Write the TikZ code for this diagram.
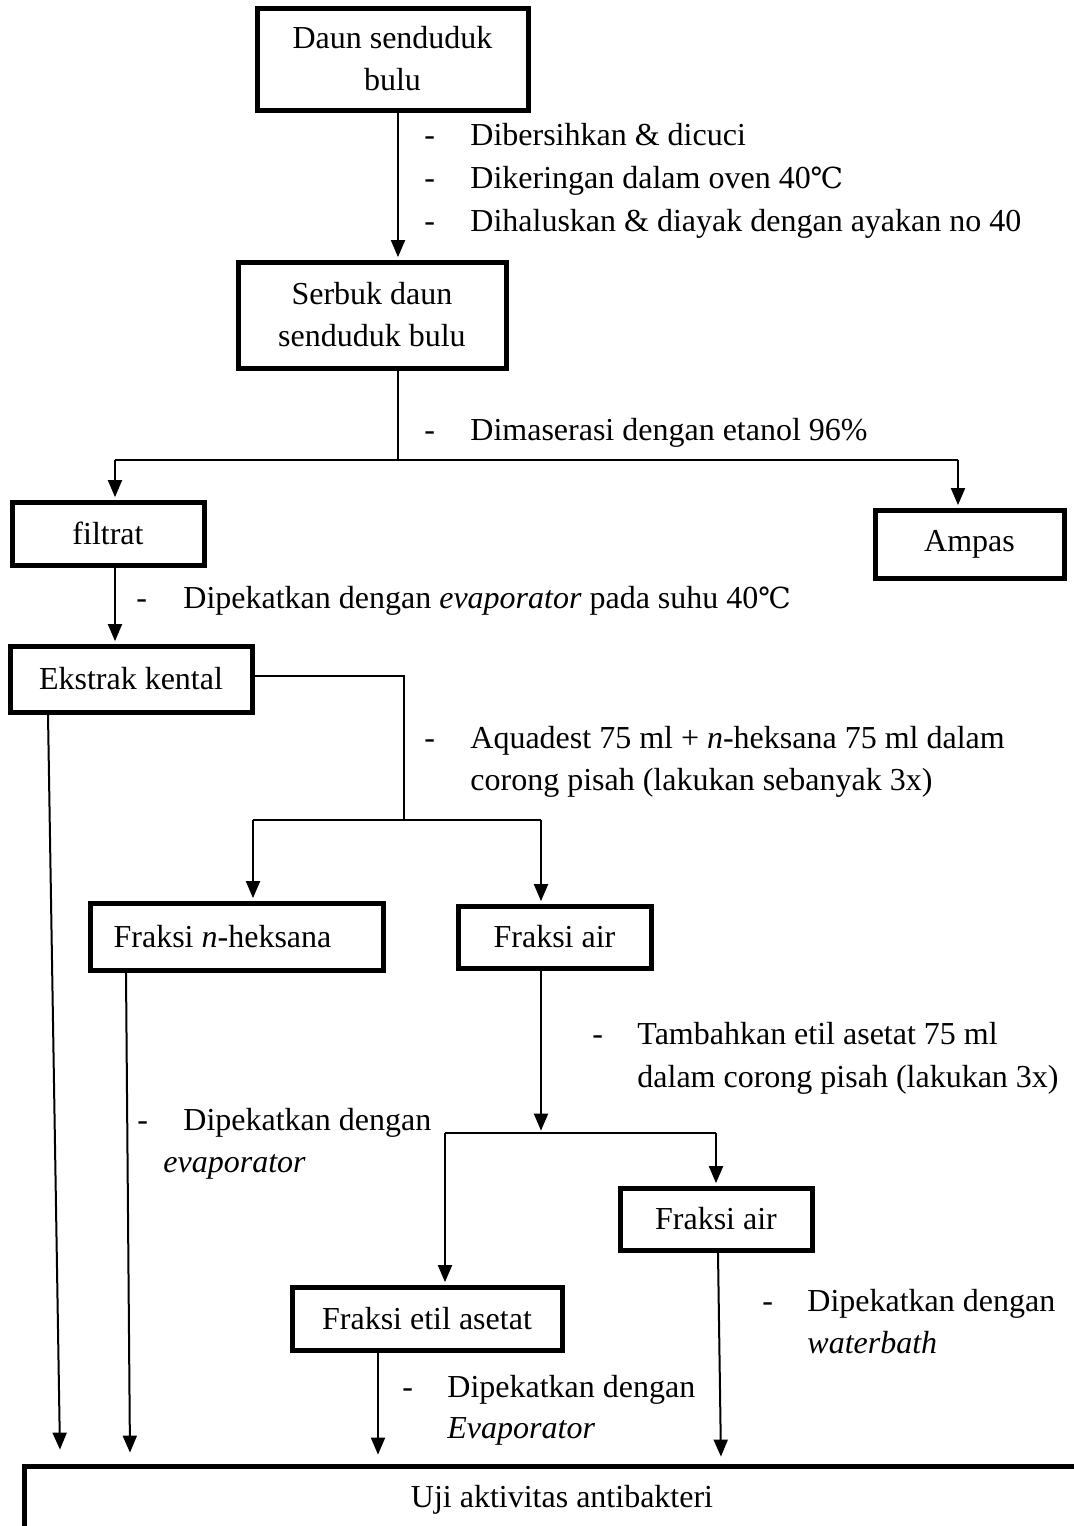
\documentclass[tikz,border=0pt]{standalone}
\usepackage{fontspec}
\setmainfont{Liberation Serif}
\newfontfamily\symfont{DejaVu Serif}
\usetikzlibrary{arrows.meta}
\newcommand{\degc}{{\symfont\fontsize{14.5pt}{21pt}\selectfont ℃}}
\tikzset{
  x=0.5pt,y=-0.5pt,
  mytext/.style={font=\fontsize{16pt}{21pt}\selectfont},
  box/.style={mytext,draw,line width=2.5pt,inner sep=0pt,align=center},
  lbl/.style={mytext,anchor=west,inner sep=0pt,text height=0.7em,text depth=0.2em},
  ln/.style={line width=1pt},
  arr/.style={line width=1pt,-{Triangle[length=8.5pt,width=7pt]},shorten >=1.2pt},
}
\begin{document}
\begin{tikzpicture}
\clip (0,0) rectangle (1074,1526);
\useasboundingbox (0,0) rectangle (1074,1526);
% boxes
\node[box,minimum width=135.5pt,minimum height=51pt] (b1) at (392.5,59) {Daun senduduk\\bulu};
\node[box,minimum width=134pt,minimum height=53pt] (b2) at (372,315) {Serbuk daun\\senduduk bulu};
\node[box,minimum width=96pt,minimum height=31.5pt] (fil) at (108,533.5) {filtrat};
\node[box,minimum width=94.5pt,minimum height=34pt] (amp) at (969.5,544) {Ampas};
\node[box,minimum width=121pt,minimum height=33pt] (eks) at (131,679) {Ekstrak kental};
\node[box,minimum width=146.5pt,minimum height=33.5pt] (hek) at (236.5,936.5) {\hspace*{-14pt}Fraksi \textit{n}-heksana};
\node[box,minimum width=96.5pt,minimum height=31pt] (air1) at (554.5,937) {Fraksi air};
\node[box,minimum width=96pt,minimum height=31pt] (air2) at (716,1219) {Fraksi air};
\node[box,minimum width=135pt,minimum height=31.5pt] (etil) at (427,1318.5) {Fraksi etil asetat};
\node[box,minimum width=537.5pt,minimum height=34pt] (uji) at (562,1500) {Uji aktivitas antibakteri};
% helper coordinates
\coordinate (x398) at (398,0);
\coordinate (j1) at (398,460);
\coordinate (h1l) at (115,460);
\coordinate (h1r) at (958,460);
\coordinate (k1) at (404,676);
\coordinate (j2) at (404,820);
\coordinate (h2l) at (253,820);
\coordinate (h2r) at (541,820);
\coordinate (j3) at (541,1133);
\coordinate (h3l) at (445,1133);
\coordinate (h3r) at (716,1133);
\coordinate (x48) at (48,0);
\coordinate (x126) at (126,0);
\coordinate (x378) at (378,0);
\coordinate (x718) at (718,0);
\coordinate (e1) at (60,1452);
\coordinate (e2) at (130,1455);
\coordinate (e3) at (378,1457);
\coordinate (e4) at (721,1459);
% connectors
\draw[arr] (b1.south -| x398) -- (b2.north -| x398);
\draw[ln] (b2.south -| x398) -- (j1);
\draw[ln] (h1l) -- (h1r);
\draw[arr] (h1l) -- (fil.north -| h1l);
\draw[arr] (h1r) -- (amp.north -| h1r);
\draw[arr] (fil.south -| h1l) -- (eks.north -| h1l);
\draw[ln] (eks.east |- k1) -- (k1) -- (j2);
\draw[ln] (h2l) -- (h2r);
\draw[arr] (h2l) -- (hek.north -| h2l);
\draw[arr] (h2r) -- (air1.north -| h2r);
\draw[arr] (air1.south -| j3) -- (j3);
\draw[ln] (h3l) -- (h3r);
\draw[arr] (h3l) -- (etil.north -| h3l);
\draw[arr] (h3r) -- (air2.north -| h3r);
\draw[arr] (eks.south -| x48) -- (e1);
\draw[arr] (hek.south -| x126) -- (e2);
\draw[arr] (etil.south -| x378) -- (e3);
\draw[arr] (air2.south -| x718) -- (e4);
% labels
\node[lbl] (d1) at (424,140) {-};
\node[lbl] (t1) at (470,140) {Dibersihkan \& dicuci};
\node[lbl] (d2) at (424,183) {-};
\node[lbl] (t2) at (470,183) {Dikeringan dalam oven 40\degc};
\node[lbl] (d3) at (424,226) {-};
\node[lbl] (t3) at (470,226) {Dihaluskan \& diayak dengan ayakan no 40};
\node[lbl] (d4) at (424,435) {-};
\node[lbl] (t4) at (470,435) {Dimaserasi dengan etanol 96\%};
\node[lbl] (d5) at (136,603) {-};
\node[lbl] (t5) at (183,603) {Dipekatkan dengan \textit{evaporator} pada suhu 40\degc};
\node[lbl] (d6) at (424,743) {-};
\node[lbl] (t6) at (470,743) {Aquadest 75 ml + \textit{n}-heksana 75 ml dalam};
\node[lbl] (t6b) at (470,785) {corong pisah (lakukan sebanyak 3x)};
\node[lbl] (d7) at (592,1039) {-};
\node[lbl] (t7) at (637,1039) {Tambahkan etil asetat 75 ml};
\node[lbl] (t7b) at (637,1082) {dalam corong pisah (lakukan 3x)};
\node[lbl] (d8) at (137,1125) {-};
\node[lbl] (t8) at (183,1125) {Dipekatkan dengan};
\node[lbl] (t8b) at (163,1167) {\textit{evaporator}};
\node[lbl] (d9) at (402,1392) {-};
\node[lbl] (t9) at (447,1392) {Dipekatkan dengan};
\node[lbl] (t9b) at (447,1433) {\textit{Evaporator}};
\node[lbl] (d10) at (762,1306) {-};
\node[lbl] (t10) at (807,1306) {Dipekatkan dengan};
\node[lbl] (t10b) at (807,1348) {\textit{waterbath}};
\end{tikzpicture}
\end{document}
